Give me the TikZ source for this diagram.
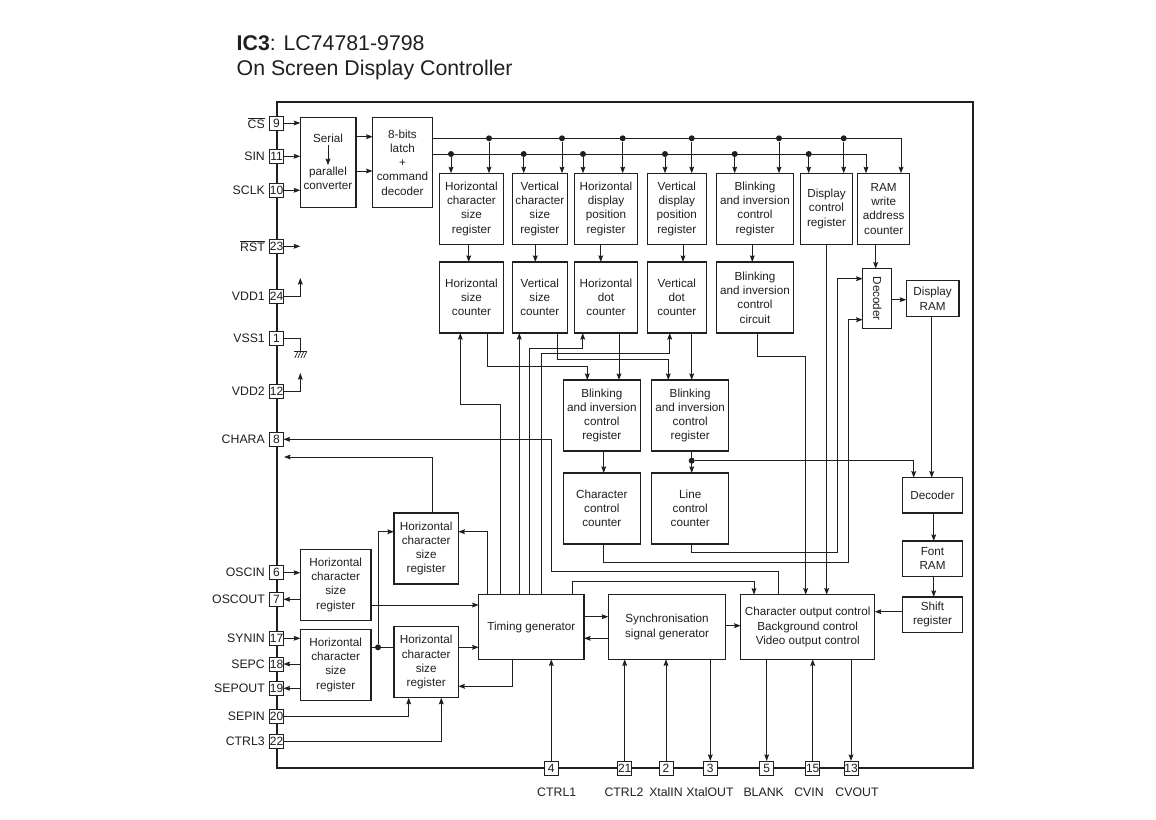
\documentclass[tikz,border=0pt]{standalone}
\usepackage{fontspec}
\usepackage{graphicx}
\setmainfont{Liberation Sans}
\usepackage{tikz}
\usetikzlibrary{arrows.meta,positioning}

\definecolor{inkline}{gray}{0.12}

\begin{document}
\begin{tikzpicture}[
    x=1pt, y=-1pt,
    >={Stealth[length=6.6pt,width=4.8pt,inset=1pt]},
    wire/.style={draw=inkline, line width=1pt},
    blockbox/.style={draw=inkline, line width=1.25pt, inner sep=0pt, outer sep=0pt, align=center, text=inkline,
        font=\fontsize{11.7}{14.3}\selectfont},
    regbox/.style={blockbox, minimum height=71pt},
    smallbox/.style={blockbox, minimum height=35.3pt},
    genbox/.style={blockbox, minimum height=64.6pt},
    pinbox/.style={draw=inkline, line width=0.9pt, fill=white, inner sep=0pt, outer sep=0pt, minimum size=14pt,
        font=\fontsize{12}{12}\selectfont, text=inkline},
    pinlabel/.style={inner sep=0pt, text=inkline, font=\fontsize{12.3}{12.3}\selectfont},
    titletext/.style={anchor=base west, inner sep=0pt, text=inkline, font=\fontsize{21.3}{25.7}\selectfont},
    dotnode/.style={circle, fill=inkline, inner sep=0pt, minimum size=6pt}
]
\useasboundingbox (0,0) rectangle (1156,819);

% title
\node[titletext] (titlea) at (236.5,50) {\textbf{IC3}: LC74781-9798};
\node[titletext] (titleb) at (236.5,75.7) {On Screen Display Controller};

% chip outline
\draw[draw=inkline, line width=1.9pt] (276.7,102.3) rectangle (972.7,768);

% input stage
\node[blockbox, minimum width=55.7pt, minimum height=90.4pt, anchor=north west] (serial) at (300.3,117.3) {};
\node[blockbox, draw=none] (serialtop) at (328,138.3) {Serial};
\node[blockbox, draw=none] (serialbot) at (328,178.6) {parallel\\converter};
\node[blockbox, minimum width=59.6pt, minimum height=90.4pt] (latch) [right=16.7pt of serial] {8-bits\\latch\\+\\command\\decoder};

% register row
\node[regbox, minimum width=64.4pt, anchor=north west] (hcsreg) at (439.3,173.3) {Horizontal\\character\\size\\register};
\node[regbox, minimum width=55pt] (vcsreg) [right=8.6pt of hcsreg] {Vertical\\character\\size\\register};
\node[regbox, minimum width=62.6pt] (hdpreg) [right=7.4pt of vcsreg] {Horizontal\\display\\position\\register};
\node[regbox, minimum width=59pt] (vdpreg) [right=10pt of hdpreg] {Vertical\\display\\position\\register};
\node[regbox, minimum width=76.6pt] (blinkreg) [right=10.4pt of vdpreg] {Blinking\\and inversion\\control\\register};
\node[regbox, minimum width=52.4pt] (dispreg) [right=7pt of blinkreg] {Display\\control\\register};
\node[regbox, minimum width=52pt] (ramcnt) [right=5pt of dispreg] {RAM\\write\\address\\counter};

% counter row
\node[regbox, minimum width=64.4pt] (hsctr) [below=17.7pt of hcsreg] {Horizontal\\size\\counter};
\node[regbox, minimum width=55pt] (vsctr) [below=17.7pt of vcsreg] {Vertical\\size\\counter};
\node[regbox, minimum width=62.6pt] (hdctr) [below=17.7pt of hdpreg] {Horizontal\\dot\\counter};
\node[regbox, minimum width=59pt] (vdctr) [below=17.7pt of vdpreg] {Vertical\\dot\\counter};
\node[regbox, minimum width=76.6pt] (blinkcir) [below=17.7pt of blinkreg] {Blinking\\and inversion\\control\\circuit};

% display memory path
\node[blockbox, minimum width=29pt, minimum height=60pt, anchor=north west] (dec) at (862.7,268.7) {\rotatebox{-90}{Decoder}};
\node[blockbox, minimum width=52.7pt, minimum height=35.7pt] (dispram) [right=14.6pt of dec] {Display\\RAM};
\node[smallbox, minimum width=60.4pt, anchor=north west] (decb) at (902.3,477.7) {Decoder};
\node[smallbox, minimum width=60.4pt] (fontram) [below=28pt of decb] {Font\\RAM};
\node[smallbox, minimum width=60.4pt] (shiftreg) [below=20.7pt of fontram] {Shift\\register};

% middle blocks
\node[regbox, minimum width=77pt, anchor=north west] (blinka) at (563.3,380) {Blinking\\and inversion\\control\\register};
\node[regbox, minimum width=77pt] (blinkb) [right=11.4pt of blinka] {Blinking\\and inversion\\control\\register};
\node[regbox, minimum width=77pt] (charctr) [below=22pt of blinka] {Character\\control\\counter};
\node[regbox, minimum width=77pt] (linectr) [below=22pt of blinkb] {Line\\control\\counter};

% generators
\node[genbox, minimum width=105.3pt, anchor=north west] (timing) at (478.7,594.7) {Timing generator};
\node[genbox, minimum width=117.4pt] (synch) [right=24.3pt of timing] {Synchronisation\\signal generator};
\node[genbox, minimum width=134pt] (charout) [right=15pt of synch] {Character output control\\Background control\\Video output control};

% lower left registers
\node[regbox, minimum width=64.3pt, anchor=north west] (hra) at (394,513) {Horizontal\\character\\size\\register};
\node[regbox, minimum width=64.3pt] (hrb) [below=42.7pt of hra] {Horizontal\\character\\size\\register};
\node[regbox, minimum width=70.7pt, anchor=north west] (hrc) at (300.3,549.3) {Horizontal\\character\\size\\register};
\node[regbox, minimum width=70.7pt] (hrd) [below=9pt of hrc] {Horizontal\\character\\size\\register};

% junction dots
\node[dotnode] (ua) at (489,138.3) {};
\node[dotnode] (ub) at (562,138.3) {};
\node[dotnode] (uc) at (622.7,138.3) {};
\node[dotnode] (ud) at (691.7,138.3) {};
\node[dotnode] (ue) at (779,138.3) {};
\node[dotnode] (uf) at (843.7,138.3) {};
\node[dotnode] (la) at (451,154) {};
\node[dotnode] (lb) at (523.7,154) {};
\node[dotnode] (lc) at (583,154) {};
\node[dotnode] (ld) at (665,154) {};
\node[dotnode] (le) at (734.7,154) {};
\node[dotnode] (lf) at (808.7,154) {};
\node[dotnode] (jline) at (691.7,460.7) {};
\node[dotnode] (jsep) at (378,647.3) {};

% free ends
\coordinate (rstend) at (300.3,246.3);
\coordinate (vddaend) at (300.3,278);
\coordinate (gnd) at (300.3,351.5);
\coordinate (vddbend) at (300.3,373);
\coordinate (charaend) at (284,457);

% input stage wires
\draw[->, wire, shorten >=2pt, shorten <=2pt] (serialtop) -- (serialbot);
\draw[->, wire] (serial.east |- 0,136.7) -- (latch.west |- 0,136.7);
\draw[->, wire] (serial.east |- 0,171) -- (latch.west |- 0,171);

% command buses
\draw[->, wire] (latch.east |- ua) -- (901,0 |- ua) -- (901,0 |- ramcnt.north);
\draw[->, wire] (latch.east |- la) -- (866,0 |- la) -- (866,0 |- ramcnt.north);
\draw[->, wire] (ua) -- (ua |- hcsreg.north);
\draw[->, wire] (ub) -- (ub |- vcsreg.north);
\draw[->, wire] (uc) -- (uc |- hdpreg.north);
\draw[->, wire] (ud) -- (ud |- vdpreg.north);
\draw[->, wire] (ue) -- (ue |- blinkreg.north);
\draw[->, wire] (uf) -- (uf |- dispreg.north);
\draw[->, wire] (la) -- (la |- hcsreg.north);
\draw[->, wire] (lb) -- (lb |- vcsreg.north);
\draw[->, wire] (lc) -- (lc |- hdpreg.north);
\draw[->, wire] (ld) -- (ld |- vdpreg.north);
\draw[->, wire] (le) -- (le |- blinkreg.north);
\draw[->, wire] (lf) -- (lf |- dispreg.north);

% register to counter
\draw[->, wire] (468.7,0 |- hcsreg.south) -- (468.7,0 |- hsctr.north);
\draw[->, wire] (535.3,0 |- vcsreg.south) -- (535.3,0 |- vsctr.north);
\draw[->, wire] (600.7,0 |- hdpreg.south) -- (600.7,0 |- hdctr.north);
\draw[->, wire] (683,0 |- vdpreg.south) -- (683,0 |- vdctr.north);
\draw[->, wire] (752.3,0 |- blinkreg.south) -- (752.3,0 |- blinkcir.north);

% counters to middle blocks
\draw[->, wire] (487.3,0 |- hsctr.south) -- (487.3,366.3) -- (587.3,366.3) -- (587.3,0 |- blinka.north);
\draw[->, wire] (557,0 |- vsctr.south) -- (557,359.7) -- (668.3,359.7) -- (668.3,0 |- blinkb.north);
\draw[->, wire] (619,0 |- hdctr.south) -- (619,0 |- blinka.north);
\draw[->, wire] (691.7,0 |- vdctr.south) -- (691.7,0 |- blinkb.north);
\draw[->, wire] (603.7,0 |- blinka.south) -- (603.7,0 |- charctr.north);
\draw[->, wire] (jline |- blinkb.south) -- (jline |- linectr.north);
\draw[->, wire] (jline) -- (913.7,0 |- jline) -- (913.7,0 |- decb.north);

% timing generator outputs
\draw[->, wire] (500.3,0 |- timing.north) -- (500.3,404.3) -- (460.3,404.3) -- (460.3,0 |- hsctr.south);
\draw[->, wire] (519.3,0 |- timing.north) -- (519.3,0 |- vsctr.south);
\draw[->, wire] (529.3,0 |- timing.north) -- (529.3,348) -- (582.7,348) -- (582.7,0 |- hdctr.south);
\draw[->, wire] (541,0 |- timing.north) -- (541,353.7) -- (669.7,353.7) -- (669.7,0 |- vdctr.south);
\draw[->, wire] (572.3,0 |- timing.north) -- (572.3,581.3) -- (754,581.3) -- (754,0 |- charout.north);
\draw[->, wire] (487.7,0 |- timing.north) -- (487.7,531.7) -- (hra.east |- 0,531.7);
\draw[->, wire] (512,0 |- timing.south) -- (512,686.3) -- (hrb.east |- 0,686.3);

% to output control
\draw[->, wire] (757.7,0 |- blinkcir.south) -- (757.7,356.7) -- (805.7,356.7) -- (805.7,0 |- charout.north);
\draw[->, wire] (826.7,0 |- dispreg.south) -- (826.7,0 |- charout.north);
\draw[->, wire] (shiftreg.west |- 0,611.7) -- (charout.east |- 0,611.7);
\draw[->, wire] (synch.east |- 0,625.7) -- (charout.west |- 0,625.7);
\draw[->, wire] (timing.east |- 0,616.7) -- (synch.west |- 0,616.7);
\draw[->, wire] (synch.west |- 0,638.3) -- (timing.east |- 0,638.3);

% display memory wires
\draw[->, wire] (875.7,0 |- ramcnt.south) -- (875.7,0 |- dec.north);
\draw[->, wire] (dec.east |- 0,299.7) -- (dispram.west |- 0,299.7);
\draw[->, wire] (931.7,0 |- dispram.south) -- (931.7,0 |- decb.north);
\draw[->, wire] (933.7,0 |- decb.south) -- (933.7,0 |- fontram.north);
\draw[->, wire] (933.7,0 |- fontram.south) -- (933.7,0 |- shiftreg.north);
\draw[->, wire] (691.3,0 |- linectr.south) -- (691.3,552.7) -- (837,552.7) -- (837,278.7) -- (dec.west |- 0,278.7);
\draw[->, wire] (603.3,0 |- charctr.south) -- (603.3,562) -- (848.7,562) -- (848.7,319.7) -- (dec.west |- 0,319.7);

% lower left wires
\draw[->, wire] (hrc.east |- 0,605) -- (timing.west |- 0,605);
\draw[wire] (hrd.east |- jsep) -- (jsep) -- (jsep -| hrb.west);
\draw[->, wire] (jsep) -- (378,531.7) -- (hra.west |- 0,531.7);
\draw[->, wire] (hrb.east |- jsep) -- (timing.west |- jsep);
\draw[->, wire] (432.3,0 |- hra.north) -- (432.3,457) -- (charaend);

% pins, left side
\node[pinbox] (pa) at (276.5,123) {9};
\node[pinbox] (pb) at (276.5,156.3) {11};
\node[pinbox] (pc) at (276.5,190.3) {10};
\node[pinbox] (pd) at (276.5,246.3) {23};
\node[pinbox] (pe) at (276.5,296) {24};
\node[pinbox] (pf) at (276.5,338.3) {1};
\node[pinbox] (pg) at (276.5,391.7) {12};
\node[pinbox] (ph) at (276.5,439.3) {8};
\node[pinbox] (pi) at (276.5,572.7) {6};
\node[pinbox] (pj) at (276.5,599.3) {7};
\node[pinbox] (pk) at (276.5,638.3) {17};
\node[pinbox] (pl) at (276.5,664) {18};
\node[pinbox] (pm) at (276.5,688.3) {19};
\node[pinbox] (pn) at (276.5,716.7) {20};
\node[pinbox] (po) at (276.5,741.7) {22};

% pins, bottom side
\node[pinbox] (qa) at (551.3,768) {4};
\node[pinbox] (qb) at (624.7,768) {21};
\node[pinbox] (qc) at (666,768) {2};
\node[pinbox] (qd) at (710.3,768) {3};
\node[pinbox] (qe) at (766.7,768) {5};
\node[pinbox] (qf) at (812.7,768) {15};
\node[pinbox] (qg) at (851,768) {13};

% left labels
\node[pinlabel] (lcs) [left=4.5pt of pa] {$\overline{\mbox{CS}}$};
\node[pinlabel] (lsin) [left=4.5pt of pb] {SIN};
\node[pinlabel] (lsclk) [left=4.5pt of pc] {SCLK};
\node[pinlabel] (lrst) [left=4.5pt of pd] {$\overline{\mbox{RST}}$};
\node[pinlabel] (lvdda) [left=4.5pt of pe] {VDD1};
\node[pinlabel] (lvss) [left=4.5pt of pf] {VSS1};
\node[pinlabel] (lvddb) [left=4.5pt of pg] {VDD2};
\node[pinlabel] (lchara) [left=4.5pt of ph] {CHARA};
\node[pinlabel] (loscin) [left=4.5pt of pi] {OSCIN};
\node[pinlabel] (loscout) [left=4.5pt of pj] {OSCOUT};
\node[pinlabel] (lsynin) [left=4.5pt of pk] {SYNIN};
\node[pinlabel] (lsepc) [left=4.5pt of pl] {SEPC};
\node[pinlabel] (lsepout) [left=4.5pt of pm] {SEPOUT};
\node[pinlabel] (lsepin) [left=4.5pt of pn] {SEPIN};
\node[pinlabel] (lctrlc) [left=4.5pt of po] {CTRL3};

% bottom labels
\node[pinlabel] (lctrla) at (556.7,792) {CTRL1};
\node[pinlabel] (lctrlb) at (624,792) {CTRL2};
\node[pinlabel] (lxin) at (666,792) {XtalIN};
\node[pinlabel] (lxout) at (710,792) {XtalOUT};
\node[pinlabel] (lblank) at (763.7,792) {BLANK};
\node[pinlabel] (lcvin) at (809,792) {CVIN};
\node[pinlabel] (lcvout) at (857,792) {CVOUT};

% pin wires, left
\draw[->, wire] (pa.east) -- (pa -| serial.west);
\draw[->, wire] (pb.east) -- (pb -| serial.west);
\draw[->, wire] (pc.east) -- (pc -| serial.west);
\draw[->, wire] (pd.east) -- (rstend);
\draw[->, wire] (pe.east) -| (vddaend);
\draw[wire] (pf.east) -| (gnd);
\draw[wire] ([xshift=-6pt]gnd) -- ([xshift=6.4pt]gnd);
\draw[wire, line width=0.7pt] ([xshift=-2.5pt]gnd) -- ([shift={(-5.5pt,-6.5pt)}]gnd)
    ([xshift=0.5pt]gnd) -- ([shift={(-2.5pt,-6.5pt)}]gnd)
    ([xshift=3.5pt]gnd) -- ([shift={(0.5pt,-6.5pt)}]gnd)
    ([xshift=6.4pt]gnd) -- ([shift={(3.4pt,-6.5pt)}]gnd);
\draw[->, wire] (pg.east) -| (vddbend);
\draw[->, wire] (778.7,0 |- charout.north) -- (778.7,571.7) -- (551,571.7) -- (551,0 |- ph) -- (ph.east);
\draw[->, wire] (pi.east) -- (pi -| hrc.west);
\draw[->, wire] (pj -| hrc.west) -- (pj.east);
\draw[->, wire] (pk.east) -- (pk -| hrd.west);
\draw[->, wire] (pl -| hrd.west) -- (pl.east);
\draw[->, wire] (pm -| hrd.west) -- (pm.east);
\draw[->, wire] (pn.east) -- (408.7,0 |- pn) -- (408.7,0 |- hrb.south);
\draw[->, wire] (po.east) -- (441.3,0 |- po) -- (441.3,0 |- hrb.south);

% pin wires, bottom
\draw[->, wire] (qa.north) -- (qa |- timing.south);
\draw[->, wire] (qb.north) -- (qb |- synch.south);
\draw[->, wire] (qc.north) -- (qc |- synch.south);
\draw[->, wire] (qd |- synch.south) -- (qd.north);
\draw[->, wire] (qe |- charout.south) -- (qe.north);
\draw[->, wire] (qf.north) -- (qf |- charout.south);
\draw[->, wire] (qg |- charout.south) -- (qg.north);
\end{tikzpicture}
\end{document}
